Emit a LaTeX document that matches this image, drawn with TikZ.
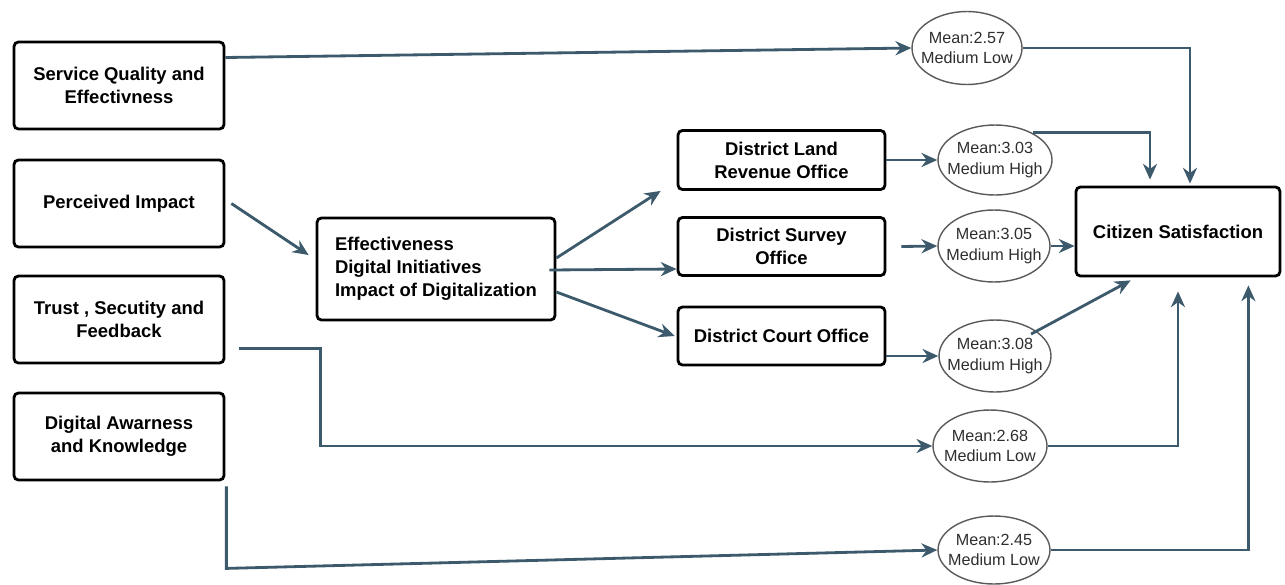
\documentclass[tikz,border=0pt]{standalone}
\usepackage{fontspec}
\setmainfont{Liberation Sans}
\usepackage{tikz}
\usetikzlibrary{arrows.meta, positioning, calc, shapes.geometric}
\definecolor{flowline}{HTML}{3C5A6B}
\definecolor{meanedge}{HTML}{5A5A5A}
\definecolor{meantext}{HTML}{2E2E2E}

\begin{document}
\begin{tikzpicture}[
    x=0.02cm, y=-0.02cm,
    csbox/.style={draw=black, line width=1.6pt, rounded corners=2.5pt, fill=white,
                  font=\bfseries\fontsize{10.5}{13}\selectfont, align=center, inner sep=2pt},
    csmean/.style={ellipse, draw=meanedge, line width=0.8pt, inner xsep=-9pt, inner ysep=-3pt,
                   minimum width=2.24cm, minimum height=1.44cm, text=meantext,
                   font=\fontsize{9.2}{11.5}\selectfont, align=center},
    csflow/.style={-{Stealth[length=9pt, width=8pt]}, line width=1.6pt, flowline}
  ]
    % factors on the left
    \node[csbox, minimum width=4.2cm, minimum height=1.74cm] (sq) at (119,85.5)  {Service Quality and\\Effectivness};
    \node[csbox, minimum width=4.2cm, minimum height=1.74cm] (pi) at (119,203.5) {Perceived Impact};
    \node[csbox, minimum width=4.2cm, minimum height=1.74cm] (tr) at (119,319.5) {Trust , Secutity and\\Feedback};
    \node[csbox, minimum width=4.2cm, minimum height=1.74cm] (da) at (119,436.5) {Digital Awarness\\and Knowledge};

    \node[csbox, minimum width=4.76cm, minimum height=2.04cm, align=left] (eff) at (436,269)
      {Effectiveness\\Digital Initiatives\\Impact of Digitalization};

    % the three district offices
    \node[csbox, minimum width=4.14cm, minimum height=1.18cm] (land)   at (781.5,160) {District Land\\Revenue Office};
    \node[csbox, minimum width=4.14cm, minimum height=1.16cm] (survey) at (781.5,246.5) {District Survey\\Office};
    \node[csbox, minimum width=4.14cm, minimum height=1.16cm] (court)  at (781.5,336) {District Court Office};

    \node[csbox, minimum width=4.08cm, minimum height=1.78cm] (cs) at (1178,231.5) {Citizen Satisfaction};

    % mean scores
    \node[csmean, minimum width=2.2cm, minimum height=1.46cm] (m1) at (967,48)  {Mean:2.57\\Medium Low};
    \node[csmean, minimum width=2.28cm, minimum height=1.4cm] (m2) at (995,160) {Mean:3.03\\Medium High};
    \node[csmean] (m3) at (994,246) {Mean:3.05\\Medium High};
    \node[csmean] (m4) at (995,356) {Mean:3.08\\Medium High};
    \node[csmean, minimum width=2.28cm] (m5) at (990,446) {Mean:2.68\\Medium Low};
    \node[csmean, minimum height=1.36cm] (m6) at (994,550) {Mean:2.45\\Medium Low};

    \draw[csflow] ($(sq.east)+(0,-28)$) -- (m1.west);
    \draw[csflow] (m1.east) -| ($(cs.north)+(12,-2)$);

    \draw[csflow] ($(pi.east)+(6,0)$) -- ($(eff.west)+(-7,-14)$);
    \draw[csflow] ($(eff.east)+(0,-11)$) -- ($(land.south west)+(-16,0)$);
    \draw[csflow] ($(eff.east)+(-7,1)$) -- (eff.east -| survey.west);
    \draw[csflow] ($(eff.east)+(0,23)$) -- ($(court.west)+(-2,0)$);

    \draw[csflow] (land.east) -- (m2.west);
    \draw[csflow] ($(m2.north east)+(-3,-2)$) -| ($(cs.north)+(-28,-6)$);
    \draw[csflow] ($(survey.east)+(15,0)$) -- (m3.west);
    \draw[csflow] (m3.east) -- (m3.east -| cs.west);
    \draw[csflow] (court.south east |- m4.west) -- (m4.west);
    \draw[csflow] ($(m4.north east)+(-4,4)$) -- ($(cs.south west)+(56,3)$);

    % the two factors that bypass the offices
    \draw[csflow] ($(tr.east)+(14,29)$) -- ++(81,0) |- (m5.west);
    \draw[csflow] (m5.east) -| ($(cs.south)+(0,14)$);
    \draw[csflow] ($(da.south east)+(1,5)$) -- ++(0,82) -- (m6.west);
    \draw[csflow] (m6.east) -| ($(cs.south east)+(-33,8)$);

    \useasboundingbox (0,0) rectangle (1285,581);
  \end{tikzpicture}
\end{document}
